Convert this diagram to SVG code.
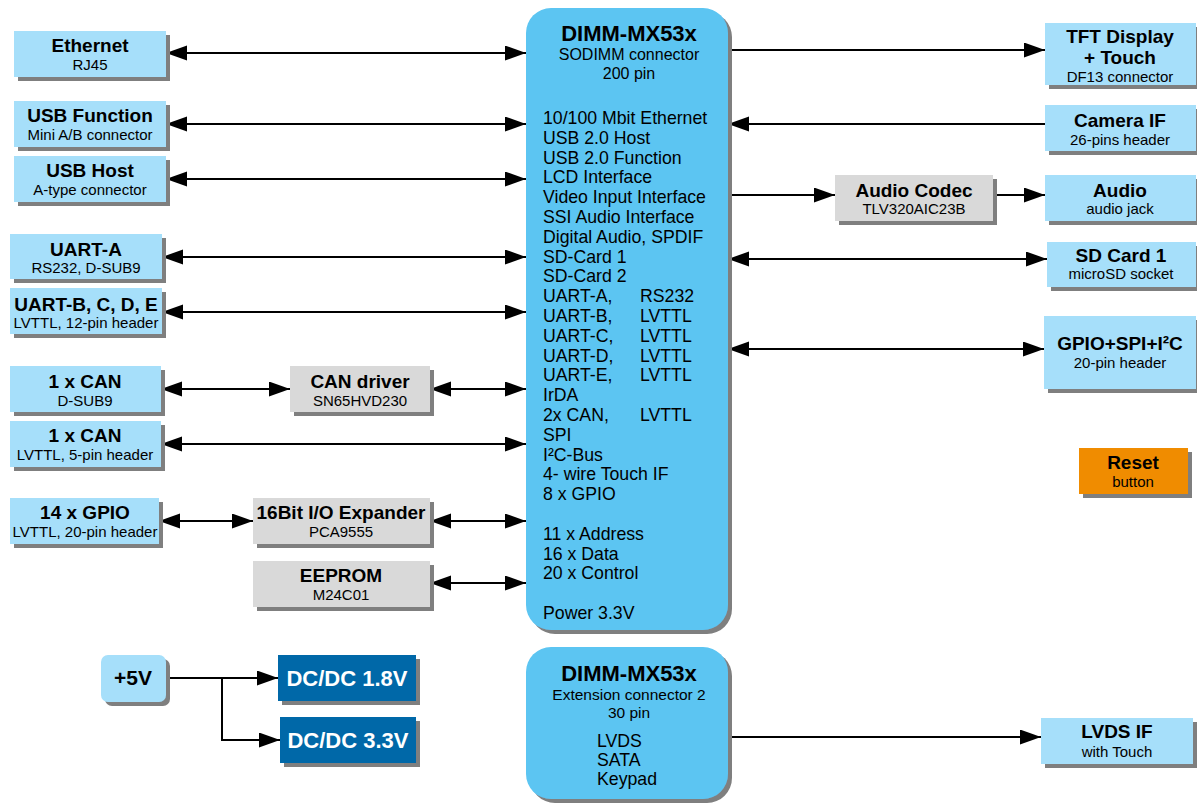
<svg xmlns="http://www.w3.org/2000/svg" width="1197" height="804" viewBox="0 0 1197 804">
<style>
text{font-family:"Liberation Sans",Arial,sans-serif;fill:#000}
.t{font-weight:bold;font-size:19px;text-anchor:middle}
.s{font-size:15px;text-anchor:middle}
.m{font-size:17.7px}
.lb{fill:#a6dffa}
.gr{fill:#d9d9d9}
.mb{fill:#5cc5f2}
.db{fill:#0068a8}
.or{fill:#f08c00}
.sh{filter:url(#sh)}
.c{stroke:#000;stroke-width:2;fill:none}
.b{marker-start:url(#ah);marker-end:url(#ah)}
.e{marker-end:url(#ah)}
.w{fill:#fff;font-weight:bold;font-size:22px;text-anchor:middle}
</style>
<defs>
<filter id="sh" x="-10%" y="-10%" width="130%" height="130%">
<feDropShadow dx="4" dy="4" stdDeviation="0.6" flood-color="#7f7f7f" flood-opacity="1"/>
</filter>
<marker id="ah" markerUnits="userSpaceOnUse" markerWidth="22" markerHeight="16" refX="21" refY="7.5" orient="auto-start-reverse">
<path d="M0,0 L21,7.5 L0,15 z" fill="#000"/>
</marker>
</defs>
<rect width="1197" height="804" fill="#fff"/>

<g id="connectors">
<line class="c b" x1="166" y1="53" x2="526" y2="53"/>
<line class="c b" x1="166" y1="124" x2="526" y2="124"/>
<line class="c b" x1="166" y1="179" x2="526" y2="179"/>
<line class="c b" x1="162" y1="257" x2="526" y2="257"/>
<line class="c b" x1="162" y1="312" x2="526" y2="312"/>
<line class="c b" x1="161" y1="389" x2="290" y2="389"/>
<line class="c b" x1="430" y1="389" x2="526" y2="389"/>
<line class="c b" x1="161" y1="444" x2="526" y2="444"/>
<line class="c b" x1="159" y1="521" x2="253" y2="521"/>
<line class="c b" x1="430" y1="521" x2="526" y2="521"/>
<line class="c b" x1="430" y1="583" x2="526" y2="583"/>
<line class="c e" x1="728" y1="50" x2="1045" y2="50"/>
<line class="c e" x1="1045" y1="124" x2="728" y2="124"/>
<line class="c e" x1="728" y1="195" x2="835" y2="195"/>
<line class="c e" x1="993" y1="195" x2="1045" y2="195"/>
<line class="c b" x1="728" y1="259" x2="1047" y2="259"/>
<line class="c b" x1="728" y1="349" x2="1044" y2="349"/>
<line class="c e" x1="728" y1="737" x2="1041" y2="737"/>
<polyline class="c e" points="166,678 278,678"/>
<polyline class="c e" points="222,678 222,740 280,740"/>
</g>

<g id="dimm-main">
<rect class="mb sh" x="526" y="8" width="202" height="622" rx="25"/>
<text x="629" y="41" style="font-weight:bold;font-size:22px;text-anchor:middle">DIMM-MX53x</text>
<text x="629" y="60" style="font-size:16px;text-anchor:middle">SODIMM connector</text>
<text x="629" y="79" style="font-size:16px;text-anchor:middle">200 pin</text>
<text class="m">
<tspan x="543" y="124">10/100 Mbit Ethernet</tspan>
<tspan x="543" y="143.8">USB 2.0 Host</tspan>
<tspan x="543" y="163.6">USB 2.0 Function</tspan>
<tspan x="543" y="183.4">LCD Interface</tspan>
<tspan x="543" y="203.2">Video Input Interface</tspan>
<tspan x="543" y="223">SSI Audio Interface</tspan>
<tspan x="543" y="242.8">Digital Audio, SPDIF</tspan>
<tspan x="543" y="262.6">SD-Card 1</tspan>
<tspan x="543" y="282.4">SD-Card 2</tspan>
<tspan x="543" y="302.2">UART-A,</tspan><tspan x="640" y="302.2">RS232</tspan>
<tspan x="543" y="322">UART-B,</tspan><tspan x="640" y="322">LVTTL</tspan>
<tspan x="543" y="341.8">UART-C,</tspan><tspan x="640" y="341.8">LVTTL</tspan>
<tspan x="543" y="361.6">UART-D,</tspan><tspan x="640" y="361.6">LVTTL</tspan>
<tspan x="543" y="381.4">UART-E,</tspan><tspan x="640" y="381.4">LVTTL</tspan>
<tspan x="543" y="401.2">IrDA</tspan>
<tspan x="543" y="421">2x CAN,</tspan><tspan x="640" y="421">LVTTL</tspan>
<tspan x="543" y="440.8">SPI</tspan>
<tspan x="543" y="460.6">I²C-Bus</tspan>
<tspan x="543" y="480.4">4- wire Touch IF</tspan>
<tspan x="543" y="500.2">8 x GPIO</tspan>
<tspan x="543" y="539.8">11 x Address</tspan>
<tspan x="543" y="559.6">16 x Data</tspan>
<tspan x="543" y="579.4">20 x Control</tspan>
<tspan x="543" y="619">Power 3.3V</tspan>
</text>
</g>

<g id="dimm-ext">
<rect class="mb sh" x="526" y="647" width="202" height="152" rx="25"/>
<text x="629" y="681" style="font-weight:bold;font-size:22px;text-anchor:middle">DIMM-MX53x</text>
<text x="629" y="700" style="font-size:15.5px;text-anchor:middle">Extension connector 2</text>
<text x="629" y="718" style="font-size:15.5px;text-anchor:middle">30 pin</text>
<text class="m"><tspan x="597" y="747">LVDS</tspan><tspan x="597" y="766">SATA</tspan><tspan x="597" y="785">Keypad</tspan></text>
</g>

<g id="ethernet"><rect class="lb sh" x="14" y="31" width="152" height="46"/><text class="t" x="90" y="52">Ethernet</text><text class="s" x="90" y="70">RJ45</text></g>
<g id="usb-function"><rect class="lb sh" x="14" y="101" width="152" height="46"/><text class="t" x="90" y="122">USB Function</text><text class="s" x="90" y="140">Mini A/B connector</text></g>
<g id="usb-host"><rect class="lb sh" x="14" y="156" width="152" height="46"/><text class="t" x="90" y="177">USB Host</text><text class="s" x="90" y="195">A-type connector</text></g>
<g id="uart-a"><rect class="lb sh" x="10" y="234" width="152" height="45"/><text class="t" x="86" y="256">UART-A</text><text class="s" x="86" y="273">RS232, D-SUB9</text></g>
<g id="uart-bcde"><rect class="lb sh" x="10" y="288" width="152" height="46"/><text class="t" x="86" y="311">UART-B, C, D, E</text><text class="s" x="86" y="328">LVTTL, 12-pin header</text></g>
<g id="can-dsub"><rect class="lb sh" x="10" y="366" width="151" height="46"/><text class="t" x="85" y="388">1 x CAN</text><text class="s" x="85" y="406">D-SUB9</text></g>
<g id="can-driver"><rect class="gr sh" x="290" y="366" width="140" height="46"/><text class="t" x="360" y="388">CAN driver</text><text class="s" x="360" y="406">SN65HVD230</text></g>
<g id="can-lvttl"><rect class="lb sh" x="10" y="421" width="151" height="46"/><text class="t" x="85" y="442">1 x CAN</text><text class="s" x="85" y="460">LVTTL, 5-pin header</text></g>
<g id="gpio14"><rect class="lb sh" x="10" y="498" width="149" height="46"/><text class="t" x="85" y="519">14 x GPIO</text><text class="s" x="85" y="537">LVTTL, 20-pin header</text></g>
<g id="io-expander"><rect class="gr sh" x="253" y="498" width="177" height="46"/><text class="t" x="341" y="519">16Bit I/O Expander</text><text class="s" x="341" y="537">PCA9555</text></g>
<g id="eeprom"><rect class="gr sh" x="253" y="561" width="177" height="46"/><text class="t" x="341" y="582">EEPROM</text><text class="s" x="341" y="600">M24C01</text></g>

<g id="tft"><rect class="lb sh" x="1045" y="23" width="151" height="62"/><text class="t" x="1120" y="43">TFT Display</text><text class="t" x="1120" y="64">+ Touch</text><text class="s" x="1120" y="82">DF13 connector</text></g>
<g id="camera"><rect class="lb sh" x="1045" y="105" width="151" height="46"/><text class="t" x="1120" y="127">Camera IF</text><text class="s" x="1120" y="145">26-pins header</text></g>
<g id="audio-codec"><rect class="gr sh" x="835" y="175" width="158" height="46"/><text class="t" x="914" y="197">Audio Codec</text><text class="s" x="914" y="214">TLV320AIC23B</text></g>
<g id="audio"><rect class="lb sh" x="1045" y="175" width="151" height="46"/><text class="t" x="1120" y="197">Audio</text><text class="s" x="1120" y="214">audio jack</text></g>
<g id="sdcard"><rect class="lb sh" x="1047" y="242" width="149" height="45"/><text class="t" x="1121" y="262">SD Card 1</text><text class="s" x="1121" y="279">microSD socket</text></g>
<g id="gpio-spi-i2c"><rect class="lb sh" x="1044" y="316" width="152" height="73"/><text class="t" x="1120" y="350">GPIO+SPI+I²C</text><text class="s" x="1120" y="368">20-pin header</text></g>
<g id="reset"><rect class="or sh" x="1079" y="448" width="109" height="46"/><text class="t" x="1133" y="469">Reset</text><text class="s" x="1133" y="487">button</text></g>
<g id="lvds"><rect class="lb sh" x="1041" y="718" width="152" height="46"/><text class="t" x="1117" y="738">LVDS IF</text><text class="s" x="1117" y="757">with Touch</text></g>

<g id="p5v"><rect class="lb sh" x="101" y="655" width="65" height="47" rx="7"/><text x="133" y="685" style="font-weight:bold;font-size:21px;text-anchor:middle">+5V</text></g>
<g id="dcdc18"><rect class="db sh" x="278" y="655" width="138" height="46"/><text class="w" x="347" y="686">DC/DC 1.8V</text></g>
<g id="dcdc33"><rect class="db sh" x="280" y="717" width="136" height="46"/><text class="w" x="348" y="748">DC/DC 3.3V</text></g>
</svg>
